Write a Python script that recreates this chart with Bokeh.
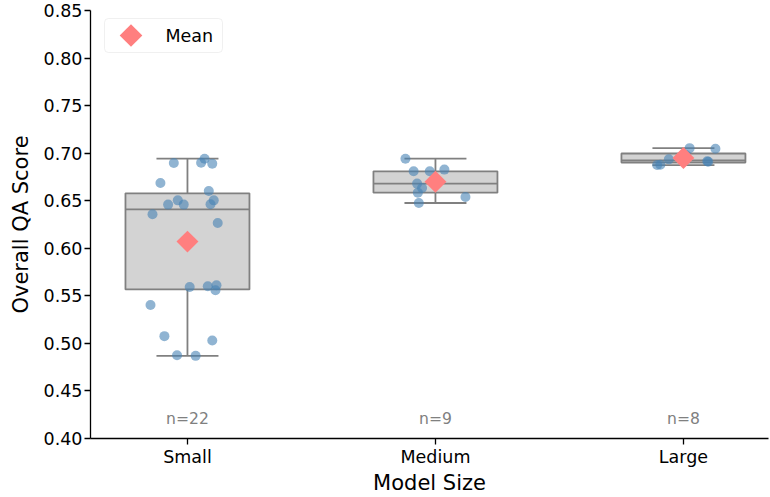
import numpy as np
from bokeh.plotting import figure
from bokeh.models import FixedTicker, NumeralTickFormatter, Range1d, ColumnDataSource, BoxAnnotation
from bokeh.embed import file_html
from bokeh.resources import INLINE
from bokeh.core.properties import value

# ---------------- data ----------------
categories = ["Small", "Medium", "Large"]

small_scores = [0.6896, 0.6942, 0.6900, 0.6890, 0.6686, 0.6602, 0.6504, 0.6459,
                0.6459, 0.6504, 0.6462, 0.6357, 0.6266, 0.5593, 0.5601, 0.5611,
                0.5559, 0.5404, 0.5076, 0.5030, 0.4876, 0.4869]
small_jitter = [-0.055, 0.069, 0.055, 0.100, -0.109, 0.086, -0.039, -0.078,
                -0.015, 0.106, 0.093, -0.141, 0.122, 0.009, 0.082, 0.117,
                0.113, -0.149, -0.093, 0.100, -0.042, 0.033]

medium_scores = [0.6942, 0.6809, 0.6809, 0.6827, 0.6680, 0.6634, 0.6585, 0.6476, 0.6539]
medium_jitter = [-0.121, -0.088, -0.023, 0.036, -0.074, -0.054, -0.071, -0.067, 0.121]

large_scores = [0.6875, 0.6878, 0.6935, 0.7053, 0.7047, 0.6915, 0.6910, 0.6980]
large_jitter = [-0.106, -0.093, -0.059, 0.025, 0.129, 0.096, 0.100, 0.010]

groups = [small_scores, medium_scores, large_scores]
jitters = [small_jitter, medium_jitter, large_jitter]

y_ticks = [0.40, 0.45, 0.50, 0.55, 0.60, 0.65, 0.70, 0.75, 0.80, 0.85]
legend_label = "Mean"

# ---------------- statistics ----------------
pos = np.arange(len(categories))
q1, med, q3, lo, hi, means, counts = [], [], [], [], [], [], []
for g in groups:
    a = np.asarray(g)
    a1, a2, a3 = np.percentile(a, [25, 50, 75])
    iqr = a3 - a1
    lo.append(a[a >= a1 - 1.5 * iqr].min())
    hi.append(a[a <= a3 + 1.5 * iqr].max())
    q1.append(a1); med.append(a2); q3.append(a3)
    means.append(a.mean()); counts.append(len(a))

box_w = 0.5
cap_w = 0.25
FONT = "DejaVu Sans"
GRAY = "#808080"

W, H = 770, 497
BL, BR, BT, BB = 90, 2, 10, 59
X0, X1 = -0.391, 2.343
Y0, Y1 = 0.40, 0.85

p = figure(width=W, height=H, output_backend="svg", toolbar_location=None,
           x_range=Range1d(X0, X1), y_range=Range1d(Y0, Y1),
           min_border_left=BL, min_border_right=BR, min_border_top=BT, min_border_bottom=BB)
p.outline_line_color = None
p.xgrid.visible = False
p.ygrid.visible = False
p.background_fill_color = "white"
p.border_fill_color = "white"

box_src = ColumnDataSource(dict(x=pos, q1=q1, q3=q3, med=med, lo=lo, hi=hi))
# whiskers
p.segment(x0="x", x1="x", y0="lo", y1="q1", source=box_src, line_color=GRAY, line_width=1.8)
p.segment(x0="x", x1="x", y0="q3", y1="hi", source=box_src, line_color=GRAY, line_width=1.8)
# caps
p.segment(x0=pos - cap_w / 2, x1=pos + cap_w / 2, y0=lo, y1=lo, line_color=GRAY, line_width=1.8)
p.segment(x0=pos - cap_w / 2, x1=pos + cap_w / 2, y0=hi, y1=hi, line_color=GRAY, line_width=1.8)
# boxes
p.quad(left=pos - box_w / 2, right=pos + box_w / 2, bottom=q1, top=q3,
       fill_color="#D3D3D3", line_color=GRAY, line_width=1.8)
# medians
p.segment(x0=pos - box_w / 2, x1=pos + box_w / 2, y0=med, y1=med, line_color=GRAY, line_width=1.8)

# jittered points
px, py = [], []
for i, (g, j) in enumerate(zip(groups, jitters)):
    px += [i + d for d in j]
    py += list(g)
p.scatter(px, py, size=10, fill_color="steelblue", fill_alpha=0.6, line_color=None)

# means
MEAN_C = "#FF7F7F"
p.scatter(pos, means, marker="square", angle=np.pi / 4, size=15.5,
          fill_color=MEAN_C, line_color=None)

# n labels
p.text(x=pos, y=[0.42] * len(pos), text=[f"n={c}" for c in counts],
       text_align="center", text_baseline="alphabetic", text_color=GRAY,
       text_font=value(FONT), text_font_size="15.6px")

# axes
p.xaxis.ticker = FixedTicker(ticks=list(pos))
p.xaxis.major_label_overrides = {int(i): c for i, c in zip(pos, categories)}
p.yaxis.ticker = FixedTicker(ticks=y_ticks)
p.yaxis.formatter = NumeralTickFormatter(format="0.00")
for ax in (p.xaxis, p.yaxis):
    ax.axis_line_color = "black"
    ax.axis_line_width = 1.3
    ax.major_tick_line_color = "black"
    ax.major_tick_line_width = 1.3
    ax.major_tick_out = 6
    ax.major_tick_in = 0
    ax.minor_tick_line_color = None
    ax.major_label_text_font = FONT
    ax.major_label_text_font_size = "17.5px"
    ax.major_label_text_color = "black"
    ax.axis_label_text_font = FONT
    ax.axis_label_text_font_size = "21px"
    ax.axis_label_text_font_style = "normal"
    ax.axis_label_text_color = "black"
p.xaxis.axis_label = "Model Size"
p.yaxis.axis_label = "Overall QA Score"
p.xaxis.major_label_standoff = 2
p.xaxis.axis_label_standoff = 1
p.yaxis.major_label_standoff = 2
p.yaxis.axis_label_standoff = 8

# ---------------- legend (drawn in the frame, positioned by pixel offsets) ----------------
fw = W - BL - BR
fh = 428
def dx(px_off):  # pixel offset from frame left -> data x
    return X0 + px_off * (X1 - X0) / fw
def dy(py_off):  # pixel offset from frame top -> data y
    return Y1 - py_off * (Y1 - Y0) / fh

p.add_layout(BoxAnnotation(left=dx(14), right=dx(132), top=dy(8), bottom=dy(42),
                           fill_color="white", fill_alpha=0.8, line_color="#CCCCCC",
                           line_width=1, border_radius=4, level="underlay"))
p.scatter([dx(40.5)], [dy(25)], marker="square", angle=np.pi / 4, size=16,
          fill_color=MEAN_C, line_color=None)
p.text(x=[dx(75)], y=[dy(25)], text=[legend_label], text_align="left", text_baseline="middle",
       text_color="black", text_font=value(FONT), text_font_size="17.5px")

open("out.html", "w").write(file_html(p, INLINE))
